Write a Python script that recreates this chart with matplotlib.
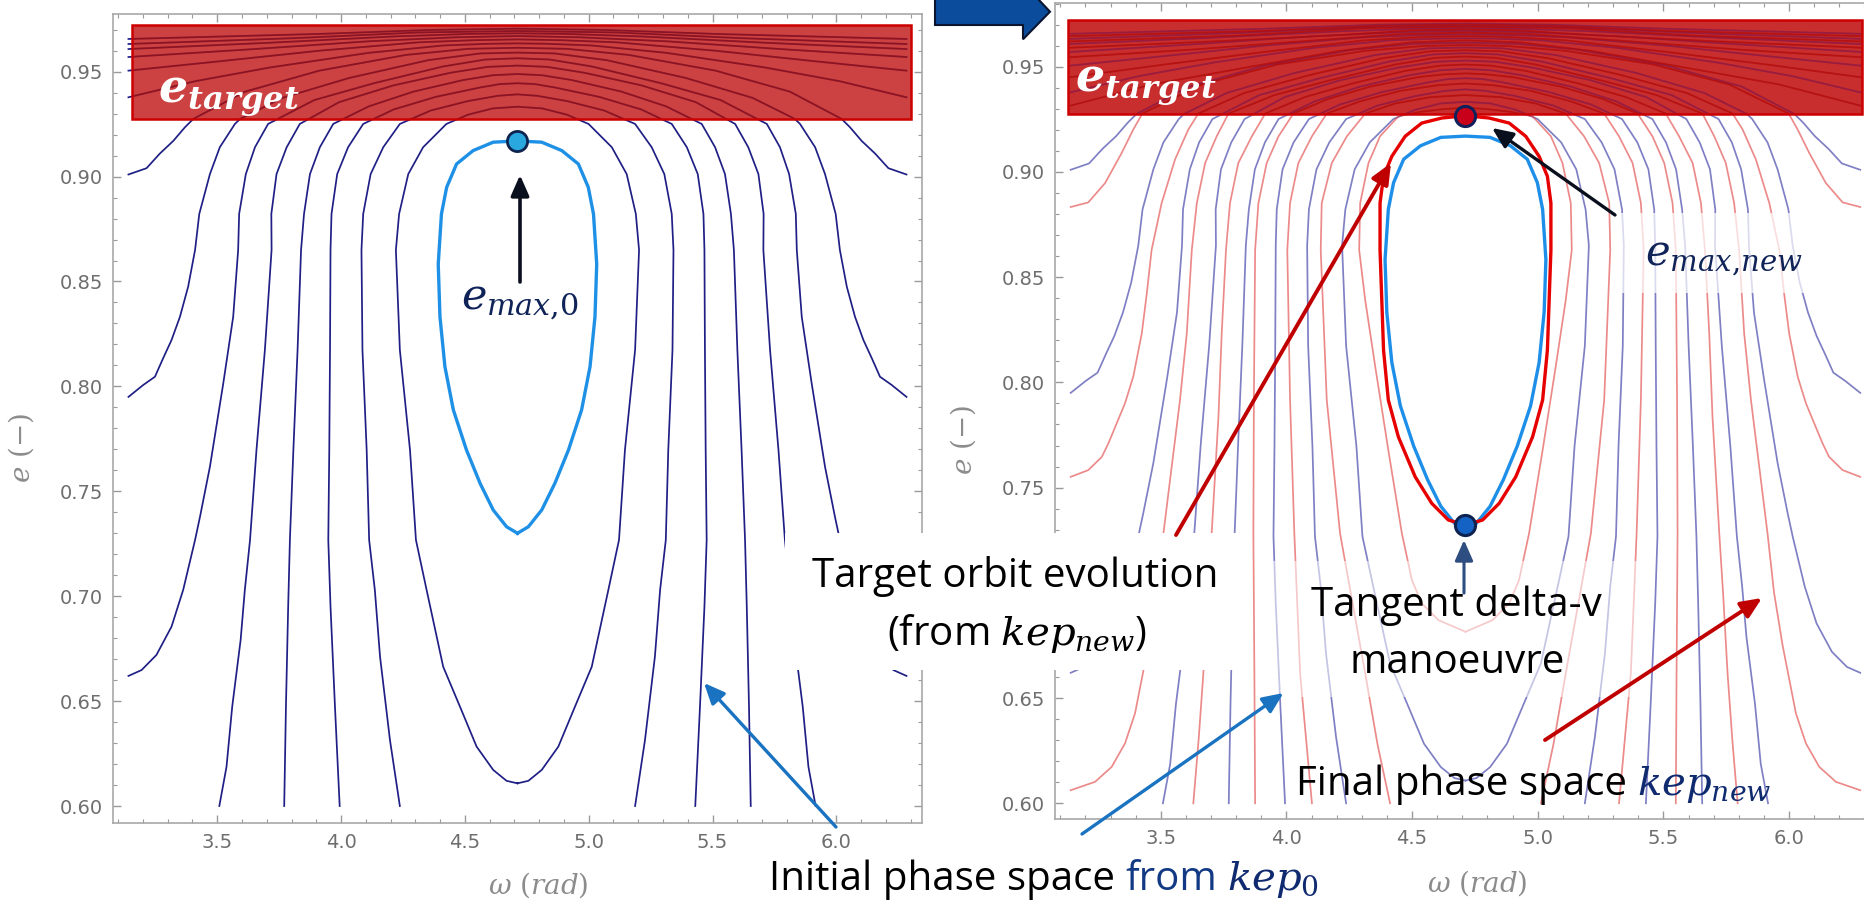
import numpy as np
import matplotlib
matplotlib.use("Agg")
import matplotlib.pyplot as plt
from matplotlib.patches import Rectangle, Polygon
from matplotlib.ticker import MultipleLocator, FormatStrFormatter, FuncFormatter

plt.rcParams["mathtext.fontset"] = "custom"
plt.rcParams["mathtext.rm"] = "DejaVu Serif"
plt.rcParams["mathtext.it"] = "DejaVu Serif:italic"
plt.rcParams["mathtext.bf"] = "DejaVu Serif:italic:bold"

OMEGA_C = 1.5 * np.pi   # every contour is symmetric about omega = 3pi/2

# Half of each contour as (distance from 3pi/2, e), from its start to the apex
# --- initial phase space (kep_0) ---
blue_A = [(1.571, 0.901), (1.498, 0.904), (1.444, 0.911), (1.390, 0.917), (1.343, 0.9235),
          (1.309, 0.9275), (1.10, 0.9405), (0.80, 0.9505), (0.45, 0.958), (0.20, 0.9609),
          (0.0, 0.9614)]
blue_B = [(1.571, 0.795), (1.511, 0.8007), (1.464, 0.8046), (1.431, 0.8134), (1.397, 0.8221),
          (1.363, 0.8332), (1.330, 0.8475), (1.302, 0.865), (1.285, 0.8822), (1.242, 0.9012),
          (1.202, 0.914), (1.141, 0.9251), (1.12, 0.9275), (0.95, 0.9375), (0.68, 0.947),
          (0.36, 0.9555), (0.15, 0.9587), (0.0, 0.9591)]
blue_C = [(1.571, 0.662), (1.518, 0.6648), (1.458, 0.672), (1.397, 0.6855), (1.350, 0.703),
          (1.302, 0.7268), (1.282, 0.7379), (1.242, 0.7617), (1.188, 0.8015), (1.148, 0.8332),
          (1.128, 0.865), (1.124, 0.8822), (1.097, 0.9012), (1.060, 0.914), (1.007, 0.9251),
          (0.82, 0.9365), (0.58, 0.9445), (0.30, 0.9525), (0.13, 0.9558), (0.0, 0.9564)]
blue_L1 = [(1.204, 0.600), (1.175, 0.6187), (1.152, 0.6473), (1.118, 0.6791), (1.101, 0.703),
           (1.080, 0.7268), (1.054, 0.7697), (1.020, 0.8174), (0.993, 0.865), (0.994, 0.8822),
           (0.973, 0.9012), (0.932, 0.914), (0.879, 0.9251), (0.72, 0.9355), (0.50, 0.9435),
           (0.27, 0.9495), (0.12, 0.9523), (0.0, 0.9529)]
blue_L2 = [(0.942, 0.600), (0.935, 0.6473), (0.926, 0.695), (0.919, 0.7268), (0.905, 0.7697),
           (0.888, 0.8174), (0.874, 0.865), (0.862, 0.8822), (0.838, 0.9012), (0.798, 0.914),
           (0.744, 0.9251), (0.60, 0.9335), (0.42, 0.9405), (0.22, 0.946), (0.10, 0.9483),
           (0.0, 0.9489)]
blue_L3 = [(0.718, 0.600), (0.737, 0.6473), (0.755, 0.695), (0.764, 0.7268), (0.760, 0.7697),
           (0.757, 0.8174), (0.755, 0.865), (0.751, 0.8822), (0.728, 0.9012), (0.684, 0.914),
           (0.623, 0.9251), (0.50, 0.932), (0.33, 0.938), (0.15, 0.9425), (0.07, 0.9441),
           (0.0, 0.9445)]
blue_L4 = [(0.475, 0.600), (0.515, 0.6315), (0.555, 0.6712), (0.576, 0.703), (0.599, 0.7268),
           (0.609, 0.7697), (0.626, 0.8174), (0.630, 0.865), (0.623, 0.8822), (0.593, 0.9012),
           (0.542, 0.914), (0.475, 0.9251), (0.35, 0.9315), (0.20, 0.936), (0.08, 0.9385),
           (0.0, 0.9392)]
blue_U = [(0.0, 0.6108), (0.044, 0.612), (0.098, 0.6172), (0.165, 0.6283), (0.232, 0.6473),
          (0.300, 0.6664), (0.367, 0.703), (0.410, 0.7268), (0.434, 0.7697), (0.475, 0.8174),
          (0.491, 0.865), (0.478, 0.8822), (0.441, 0.9012), (0.381, 0.914), (0.287, 0.9251),
          (0.20, 0.9295), (0.10, 0.9325), (0.0, 0.9333)]
blue_K1 = [(1.571, 0.9378), (1.30, 0.9455), (1.00, 0.952), (0.60, 0.959), (0.30, 0.9625),
           (0.12, 0.9633), (0.0, 0.9635)]
blue_K2 = [(1.571, 0.9505), (1.20, 0.955), (0.80, 0.960), (0.40, 0.964), (0.18, 0.965), (0.0, 0.9654)]
blue_K3 = [(1.571, 0.957), (1.10, 0.9605), (0.60, 0.9645), (0.25, 0.9664), (0.0, 0.967)]
blue_K4 = [(1.571, 0.9608), (1.00, 0.9638), (0.50, 0.9668), (0.20, 0.968), (0.0, 0.9683)]
blue_K5 = [(1.571, 0.9632), (0.90, 0.966), (0.40, 0.9687), (0.0, 0.9694)]
blue_K6 = [(1.571, 0.9656), (0.80, 0.968), (0.35, 0.9699), (0.0, 0.9705)]
blue_island = [(0.0, 0.730), (0.044, 0.7331), (0.098, 0.7411), (0.151, 0.7538), (0.206, 0.7697),
               (0.259, 0.7888), (0.293, 0.8094), (0.313, 0.8332), (0.320, 0.8583), (0.307, 0.8822),
               (0.286, 0.8949), (0.246, 0.906), (0.179, 0.9124), (0.098, 0.9164), (0.0, 0.917)]

# --- final phase space (kep_new) ---
red_A = [(1.571, 0.8833), (1.501, 0.8855), (1.434, 0.8947), (1.368, 0.909), (1.322, 0.9201),
         (1.286, 0.9277), (1.05, 0.9415), (0.75, 0.951), (0.40, 0.9575), (0.17, 0.9598), (0.0, 0.9603)]
red_B = [(1.571, 0.7551), (1.501, 0.7583), (1.447, 0.7646), (1.421, 0.771), (1.388, 0.7805),
         (1.355, 0.790), (1.322, 0.8027), (1.288, 0.8233), (1.268, 0.8423), (1.249, 0.8629),
         (1.209, 0.8852), (1.156, 0.9058), (1.103, 0.9201), (1.063, 0.9277), (0.88, 0.9375),
         (0.62, 0.946), (0.33, 0.954), (0.14, 0.9573), (0.0, 0.9578)]
red_C = [(1.571, 0.6062), (1.474, 0.6102), (1.408, 0.6173), (1.355, 0.6284), (1.315, 0.6427),
         (1.262, 0.675), (1.228, 0.700), (1.202, 0.7282), (1.169, 0.7599), (1.136, 0.7916),
         (1.109, 0.8233), (1.089, 0.8629), (1.069, 0.8852), (1.036, 0.9042), (0.990, 0.9169),
         (0.943, 0.9277), (0.76, 0.9365), (0.54, 0.9435), (0.28, 0.951), (0.12, 0.9542), (0.0, 0.9548)]
red_L1 = [(1.083, 0.600), (1.062, 0.630), (1.043, 0.6617), (1.025, 0.700), (1.010, 0.7282),
          (0.983, 0.7836), (0.970, 0.8233), (0.953, 0.8629), (0.937, 0.8852), (0.904, 0.9042),
          (0.850, 0.9169), (0.797, 0.9277), (0.64, 0.9355), (0.45, 0.942), (0.24, 0.948),
          (0.10, 0.9505), (0.0, 0.951)]
red_L2 = [(0.837, 0.600), (0.840, 0.6617), (0.844, 0.7282), (0.842, 0.7916), (0.837, 0.8629),
          (0.824, 0.8852), (0.791, 0.9042), (0.744, 0.9169), (0.685, 0.9277), (0.55, 0.9345),
          (0.38, 0.9405), (0.19, 0.945), (0.08, 0.9464), (0.0, 0.9468)]
red_L3 = [(0.611, 0.600), (0.658, 0.6617), (0.681, 0.7282), (0.698, 0.7916), (0.709, 0.8629),
          (0.698, 0.8852), (0.665, 0.9042), (0.611, 0.9169), (0.552, 0.9277), (0.42, 0.9335),
          (0.26, 0.9385), (0.11, 0.9412), (0.0, 0.942)]
red_L4 = [(0.300, 0.600), (0.350, 0.628), (0.399, 0.6617), (0.499, 0.7282), (0.552, 0.7916),
          (0.576, 0.8629), (0.572, 0.8852), (0.532, 0.9042), (0.472, 0.9169), (0.399, 0.9277),
          (0.28, 0.9325), (0.14, 0.9355), (0.0, 0.9365)]
red_U = [(0.0, 0.6815), (0.107, 0.687), (0.174, 0.695), (0.213, 0.706), (0.253, 0.7282),
         (0.307, 0.7678), (0.359, 0.8074), (0.399, 0.8391), (0.423, 0.8629), (0.419, 0.8852),
         (0.386, 0.9042), (0.340, 0.9169), (0.267, 0.9264), (0.18, 0.9285), (0.09, 0.9298), (0.0, 0.9305)]
red_K1 = [(1.571, 0.9315), (1.25, 0.9415), (0.90, 0.949), (0.50, 0.9575), (0.22, 0.9615), (0.0, 0.9625)]
red_K2 = [(1.571, 0.945), (1.20, 0.951), (0.80, 0.957), (0.40, 0.9625), (0.17, 0.9641), (0.0, 0.9645)]
red_K3 = [(1.571, 0.9545), (1.10, 0.958), (0.60, 0.9625), (0.25, 0.9655), (0.0, 0.9662)]
red_K4 = [(1.571, 0.959), (1.00, 0.962), (0.50, 0.965), (0.20, 0.9673), (0.0, 0.9677)]
red_K5 = [(1.571, 0.962), (0.90, 0.9648), (0.40, 0.9683), (0.0, 0.969)]
red_K6 = [(1.571, 0.9645), (0.80, 0.967), (0.35, 0.9694), (0.0, 0.970)]
red_island = [(0.0, 0.7322), (0.068, 0.7346), (0.134, 0.7425), (0.200, 0.7551), (0.267, 0.7741),
              (0.307, 0.7916), (0.326, 0.8153), (0.340, 0.8629), (0.340, 0.8852), (0.326, 0.8979),
              (0.293, 0.9074), (0.240, 0.9169), (0.174, 0.9232), (0.094, 0.9256), (0.0, 0.9267)]

blue_set = [blue_A, blue_B, blue_C, blue_L1, blue_L2, blue_L3, blue_L4, blue_U,
            blue_K1, blue_K2, blue_K3, blue_K4, blue_K5, blue_K6]
red_set = [red_A, red_B, red_C, red_L1, red_L2, red_L3, red_L4, red_U,
           red_K1, red_K2, red_K3, red_K4, red_K5, red_K6]

E_MAX_0 = 0.917
E_MAX_NEW = 0.9267
E_MANOEUVRE = 0.7322
E_TARGET = (0.9275, 0.9723)
BAND_W_LEFT = (3.157, 6.300)
BAND_W_RIGHT = (3.130, 6.290)

NAVY = "#0f2358"


def halves(pts):
    d = np.array([p[0] for p in pts])
    e = np.array([p[1] for p in pts])
    w = np.concatenate([OMEGA_C - d, OMEGA_C + d[::-1][1:]])
    return w, np.concatenate([e, e[::-1][1:]])


def add_band(ax, wlim, color):
    band = Rectangle((wlim[0], E_TARGET[0]), wlim[1] - wlim[0], E_TARGET[1] - E_TARGET[0],
                     fc=color, ec="none", alpha=0.93, zorder=3)
    ax.add_patch(band)
    ax.add_patch(Rectangle((wlim[0], E_TARGET[0]), wlim[1] - wlim[0], E_TARGET[1] - E_TARGET[0],
                           fill=False, ec="#cc0000", lw=1.8, zorder=5))
    return band


def draw_curves(ax, curves, color, alpha, band, band_color, lw=1.25):
    for pts in curves:
        w, e = halves(pts)
        ax.plot(w, e, color=color, alpha=alpha, lw=lw, zorder=2, solid_joinstyle="round")
        ln, = ax.plot(w, e, color=band_color, alpha=0.75, lw=lw, zorder=4, solid_joinstyle="round")
        ln.set_clip_path(band)


def style_axes(ax, ylim):
    ax.set_xlim(3.079, 6.346)
    ax.set_ylim(*ylim)
    ax.xaxis.set_major_locator(MultipleLocator(0.5))
    ax.xaxis.set_minor_locator(MultipleLocator(0.1))
    ax.yaxis.set_major_locator(MultipleLocator(0.05))
    ax.yaxis.set_minor_locator(MultipleLocator(0.01))
    ax.xaxis.set_major_formatter(FormatStrFormatter("%.1f"))
    ax.yaxis.set_major_formatter(FormatStrFormatter("%.2f"))
    ax.tick_params(which="both", direction="in", top=True, right=True,
                   color="#9a9a9a", labelcolor="#6e6e6e", labelsize=14, pad=7)
    ax.tick_params(which="major", length=5.5, width=1)
    ax.tick_params(which="minor", length=3, width=0.8)
    for s in ax.spines.values():
        s.set_color("#a8a8a8")
        s.set_linewidth(1.2)
    ax.set_xlabel(r"$\omega\ (rad)$", fontsize=20, color="#8c8c8c")
    ax.set_ylabel(r"$e\ (-)$", fontsize=20, color="#8c8c8c")
    ax.xaxis.label.set_va("center")
    ax.yaxis.label.set_va("center")


fig = plt.figure(figsize=(18.64, 9.09), dpi=100)
axL = fig.add_axes([113 / 1864, 1 - 823 / 909, 809 / 1864, 809 / 909])
axR = fig.add_axes([1055 / 1864, 1 - 819.3 / 909, 821 / 1864, 816 / 909])

# left: initial phase space
style_axes(axL, (0.5919, 0.9775))
bandL = add_band(axL, BAND_W_LEFT, "#c83232")
draw_curves(axL, blue_set, "#1f1f85", 1.0, bandL, "#7a0a1e")
w, e = halves(blue_island)
axL.plot(w, e, color="#1e90e6", lw=2.4, zorder=2.5)
axL.plot(OMEGA_C, E_MAX_0, "o", ms=14.5, mfc="#29a8e0", mec="#0e2350", mew=2, zorder=6)
axL.xaxis.set_label_coords(0.525, -0.0766)
axL.yaxis.set_label_coords(-0.1137, 0.4635)

# right: initial and final phase space together
style_axes(axR, (0.5924, 0.9801))
# the 0.70 label sits under the caption box
axR.yaxis.set_major_formatter(FuncFormatter(lambda v, _: "" if abs(v - 0.70) < 1e-6 else f"{v:.2f}"))
bandR = add_band(axR, BAND_W_RIGHT, "#c41e1e")
draw_curves(axR, blue_set, "#2a2a9e", 0.6, bandR, "#8a1a48")
draw_curves(axR, red_set, "#e03c3c", 0.6, bandR, "#b00c0c")
w, e = halves(blue_island)
axR.plot(w, e, color="#1e8fe8", lw=2.4, zorder=2.5)
w, e = halves(red_island)
axR.plot(w, e, color="#e60000", lw=2.4, zorder=2.6)
axR.plot(OMEGA_C, E_MAX_NEW, "o", ms=14.5, mfc="#c8001a", mec="#10205a", mew=2.2, zorder=6)
axR.plot(OMEGA_C, E_MANOEUVRE, "o", ms=14.5, mfc="#1462c4", mec="#0e2350", mew=2.2, zorder=6)
axR.xaxis.set_label_coords(0.514, -0.078)
axR.yaxis.set_label_coords(-0.112, 0.465)

# annotation layer in pixel coordinates
ov = fig.add_axes([0, 0, 1, 1], zorder=10)
ov.set_xlim(0, 1864)
ov.set_ylim(909, 0)
ov.axis("off")
ov.patch.set_visible(False)

ov.add_patch(Polygon([(935, -2), (1023, -2), (1023, -17), (1050, 11.7), (1023, 39.3),
                      (1023, 25), (935, 25)], closed=True, fc="#0b4c9c", ec="#0b1530", lw=1.5))

ov.add_patch(Rectangle((785, 533), 465, 137, fc="white", ec="none", zorder=1))
ov.add_patch(Rectangle((1273, 561), 370, 136, fc="white", alpha=0.55, ec="none", zorder=1))
ov.add_patch(Rectangle((1617, 213), 240, 80, fc="white", alpha=0.72, ec="none", zorder=1))


def arrow(tail, tip, color, lw):
    ov.annotate("", xy=tip, xytext=tail, zorder=3,
                arrowprops=dict(arrowstyle="-|>,head_length=1.25,head_width=0.55",
                                color=color, lw=lw, shrinkA=0, shrinkB=0, mutation_scale=10))


arrow((520, 282), (520, 175), "#0a0f1e", 2.6)
arrow((836, 827), (704, 683), "#1a73c0", 2.4)
arrow((1082, 834), (1283.5, 693), "#1a73c0", 2.4)
arrow((1176, 535), (1391, 163), "#c00000", 2.8)
arrow((1545, 740), (1762, 598), "#c00000", 2.8)
arrow((1615, 215), (1492, 128), "#0a0f1e", 2.4)
arrow((1464, 593), (1464, 540), "#2e4d80", 2.2)

ov.text(158, 102, r"$\mathbf{e_{target}}$", color="white", fontsize=33, va="baseline", zorder=4)
ov.text(1075, 91, r"$\mathbf{e_{target}}$", color="white", fontsize=33, va="baseline", zorder=4)
ov.text(520, 310, r"$e_{max{,}0}$", color=NAVY, fontsize=31, ha="center", va="baseline", zorder=4)
ov.text(1645, 266, r"$e_{max{,}new}$", color=NAVY, fontsize=30, ha="left", va="baseline", zorder=4)

SANS = "Open Sans"
FS = 29
ov.text(1015, 587, "Target orbit evolution", family=SANS, fontsize=FS, ha="center", va="baseline", zorder=4)
ov.text(1017, 645, r"(from $kep_{new}$)", family=SANS, fontsize=FS, ha="center", va="baseline", zorder=4)
ov.text(1456, 616, "Tangent delta-v", family=SANS, fontsize=FS, ha="center", va="baseline", zorder=4)
ov.text(1457, 673, "manoeuvre", family=SANS, fontsize=FS, ha="center", va="baseline", zorder=4)

renderer = fig.canvas.get_renderer()


def text_row(x, y, pieces):
    gap = 0.25 * FS * fig.dpi / 72
    for s, col in pieces:
        t = ov.text(x, y, s, color=col, family=SANS, fontsize=FS, ha="left", va="baseline", zorder=4)
        x += t.get_window_extent(renderer=renderer).width + gap


text_row(1296, 795, [("Final phase space", "black"), (r"$kep_{new}$", "#102a70")])
text_row(769, 890, [("Initial phase space", "black"), ("from", "#123a84"), (r"$kep_0$", "#102a70")])

fig.savefig("out.png", dpi=100)
